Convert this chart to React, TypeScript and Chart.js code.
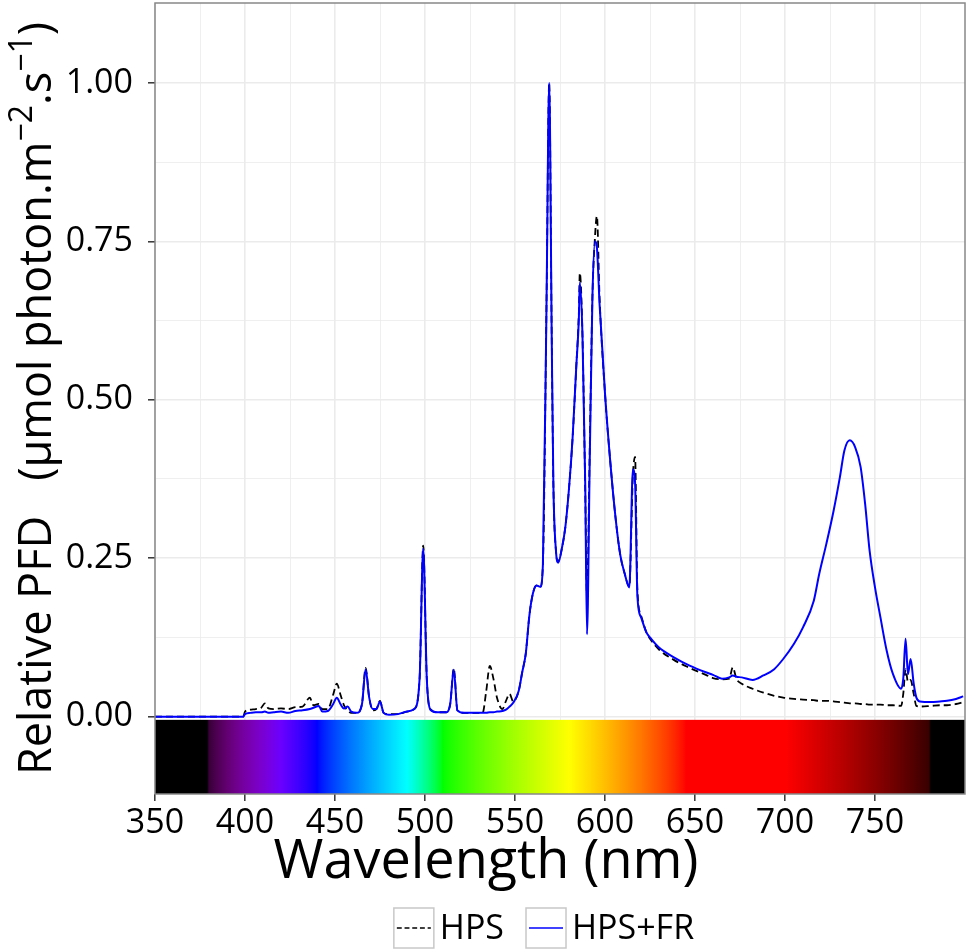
import React, { useEffect, useRef } from 'react';
import Chart from 'chart.js/auto';

// wavelength (nm) and relative photon flux for both lamps
const wavelengths = [
    350, 399, 400, 403, 406, 409, 411, 413, 416, 420, 424, 428, 432, 436, 438, 441, 443, 446, 449, 451,
    453, 455, 457, 459, 462, 465, 467, 469, 471, 473, 475, 477, 480, 485, 490, 494, 497, 499, 501, 503,
    507, 512, 514, 516, 518, 522, 528, 532, 534, 536, 538, 540, 543, 545, 547, 549, 552, 554, 556, 558,
    560, 562, 564, 565.5, 567.5, 569, 570.4, 571.3, 572.8, 574, 576, 578, 580, 582, 584, 585.5, 586, 587.5, 589, 590,
    591.5, 593, 594.5, 595.5, 597, 600, 603, 606, 608.5, 611, 613.5, 615.5, 616.7, 618, 620, 623, 625, 630, 638, 647,
    656, 660, 665, 669, 671, 673, 676, 682, 688, 694, 699, 705, 710, 716, 719, 723, 727, 730.5, 733, 736,
    739, 742, 744.5, 747, 750, 753, 756.5, 760, 764.5, 765.7, 767, 768.3, 769.8, 771.5, 773, 775, 781, 786, 790, 795,
    799,
];

const hps = [
    0, 0, 0.008, 0.011, 0.012, 0.014, 0.021, 0.013, 0.012, 0.013, 0.012, 0.015, 0.016, 0.03, 0.018, 0.02, 0.012, 0.012, 0.035, 0.052,
    0.035, 0.018, 0.01, 0.006, 0.006, 0.02, 0.077, 0.03, 0.01, 0.012, 0.025, 0.006, 0.004, 0.004, 0.008, 0.012, 0.06, 0.27, 0.06, 0.012,
    0.007, 0.007, 0.02, 0.076, 0.01, 0.006, 0.006, 0.006, 0.04, 0.08, 0.06, 0.03, 0.012, 0.025, 0.036, 0.024, 0.04, 0.07, 0.1, 0.16,
    0.195, 0.207, 0.205, 0.24, 0.65, 1.0, 0.6, 0.37, 0.26, 0.245, 0.265, 0.3, 0.36, 0.44, 0.55, 0.64, 0.7, 0.6, 0.36, 0.19,
    0.42, 0.66, 0.76, 0.79, 0.66, 0.51, 0.4, 0.31, 0.255, 0.225, 0.205, 0.38, 0.41, 0.2, 0.16, 0.133, 0.123, 0.106, 0.09, 0.077,
    0.066, 0.061, 0.059, 0.06, 0.078, 0.06, 0.052, 0.044, 0.038, 0.033, 0.03, 0.028, 0.027, 0.026, 0.025, 0.025, 0.024, 0.023, 0.022, 0.021,
    0.021, 0.02, 0.02, 0.019, 0.019, 0.019, 0.018, 0.018, 0.017, 0.036, 0.075, 0.055, 0.058, 0.036, 0.017, 0.016, 0.017, 0.018, 0.018, 0.02,
    0.023,
];

const hpsFr = [
    0, 0, 0.004, 0.006, 0.007, 0.007, 0.008, 0.006, 0.007, 0.008, 0.006, 0.009, 0.01, 0.012, 0.014, 0.017, 0.008, 0.009, 0.02, 0.03,
    0.02, 0.013, 0.016, 0.008, 0.006, 0.02, 0.075, 0.03, 0.012, 0.012, 0.024, 0.006, 0.003, 0.004, 0.008, 0.012, 0.06, 0.265, 0.06, 0.011,
    0.007, 0.007, 0.02, 0.074, 0.01, 0.006, 0.006, 0.006, 0.006, 0.007, 0.007, 0.008, 0.009, 0.011, 0.016, 0.022, 0.04, 0.07, 0.1, 0.16,
    0.195, 0.207, 0.205, 0.24, 0.65, 1.0, 0.6, 0.37, 0.26, 0.243, 0.265, 0.3, 0.36, 0.44, 0.55, 0.63, 0.685, 0.6, 0.37, 0.13,
    0.4, 0.66, 0.75, 0.74, 0.65, 0.51, 0.4, 0.31, 0.255, 0.225, 0.204, 0.39, 0.37, 0.19, 0.157, 0.133, 0.125, 0.109, 0.094, 0.0805,
    0.07, 0.066, 0.06, 0.062, 0.065, 0.063, 0.062, 0.058, 0.065, 0.075, 0.091, 0.115, 0.141, 0.183, 0.225, 0.273, 0.325, 0.378, 0.42, 0.436,
    0.425, 0.394, 0.336, 0.262, 0.204, 0.157, 0.104, 0.067, 0.044, 0.06, 0.123, 0.067, 0.091, 0.052, 0.03, 0.024, 0.023, 0.024, 0.025, 0.028,
    0.032,
];

const seriesLabels = ['HPS', 'HPS+FR'];
const xTicks = [350, 375, 400, 425, 450, 475, 500, 525, 550, 575, 600, 625, 650, 675, 700, 725, 750, 775];
const yTicks = [0, 0.125, 0.25, 0.375, 0.5, 0.625, 0.75, 0.875, 1];

const FONT = '"Open Sans", "Noto Sans", sans-serif';

const isMajorX = (v: number) => v % 50 === 0;
const isMajorY = (v: number) => Math.abs(v * 4 - Math.round(v * 4)) < 1e-9;

// approximate visible colour of a wavelength
function spectrumColor(w: number): string {
    let r = 0, g = 0, b = 0;
    if (w >= 380 && w < 440) { r = (440 - w) / 60; b = 1; }
    else if (w >= 440 && w < 490) { g = (w - 440) / 50; b = 1; }
    else if (w >= 490 && w < 510) { g = 1; b = (510 - w) / 20; }
    else if (w >= 510 && w < 580) { r = (w - 510) / 70; g = 1; }
    else if (w >= 580 && w < 645) { r = 1; g = (645 - w) / 65; }
    else if (w >= 645 && w <= 780) { r = 1; }
    let f = 0;
    if (w >= 380 && w < 420) f = 0.15 + 0.85 * (w - 380) / 40;
    else if (w >= 420 && w <= 700) f = 1;
    else if (w > 700 && w <= 780) f = 0.15 + 0.85 * (780 - w) / 80;
    const c = (v: number) => Math.round(255 * Math.pow(v * f, 0.8));
    return `rgb(${c(r)},${c(g)},${c(b)})`;
}

const colorBarPlugin = {
    id: 'colorBar',
    beforeDatasetsDraw(chart: any) {
        const { ctx, chartArea, scales } = chart;
        const x0 = scales.x.getPixelForValue(350);
        const x1 = scales.x.getPixelForValue(800);
        const top = scales.y.getPixelForValue(-0.005);
        const grad = ctx.createLinearGradient(x0, 0, x1, 0);
        for (let w = 350; w <= 800; w += 1) {
            grad.addColorStop((w - 350) / 450, spectrumColor(w));
        }
        ctx.save();
        ctx.fillStyle = grad;
        ctx.fillRect(x0, top, Math.min(x1, chartArea.right) - x0, chartArea.bottom - top);
        ctx.restore();
    },
};

const framePlugin = {
    id: 'frame',
    afterDraw(chart: any) {
        const { ctx, chartArea } = chart;
        ctx.save();
        ctx.strokeStyle = '#888888';
        ctx.lineWidth = 1.5;
        ctx.strokeRect(chartArea.left, chartArea.top, chartArea.right - chartArea.left, chartArea.bottom - chartArea.top);
        ctx.restore();
    },
};

const yTitlePlugin = {
    id: 'yTitle',
    afterDraw(chart: any) {
        const { ctx, chartArea } = chart;
        const size = 45;
        const supSize = 32;
        const parts = [
            { text: 'Relative PFD   (µmol photon.m', sup: false },
            { text: '−2', sup: true },
            { text: '.s', sup: false },
            { text: '−1', sup: true },
            { text: ')', sup: false },
        ];
        ctx.save();
        const widths = parts.map(p => {
            ctx.font = `${p.sup ? supSize : size}px ${FONT}`;
            return ctx.measureText(p.text).width;
        });
        const total = widths.reduce((a, b) => a + b, 0);
        ctx.translate(51, (chartArea.top + chartArea.bottom) / 2);
        ctx.rotate(-Math.PI / 2);
        ctx.fillStyle = '#000';
        ctx.textAlign = 'left';
        ctx.textBaseline = 'alphabetic';
        let x = -total / 2;
        parts.forEach((p, i) => {
            ctx.font = `${p.sup ? supSize : size}px ${FONT}`;
            ctx.fillText(p.text, x, p.sup ? -19 : 0);
            x += widths[i];
        });
        ctx.restore();
    },
};

const xTitlePlugin = {
    id: 'xTitle',
    afterDraw(chart: any) {
        const { ctx } = chart;
        ctx.save();
        ctx.font = `54px ${FONT}`;
        ctx.fillStyle = '#000';
        ctx.textAlign = 'center';
        ctx.textBaseline = 'alphabetic';
        ctx.fillText('Wavelength (nm)', 486, 878);
        ctx.restore();
    },
};

const legendPlugin = {
    id: 'bottomLegend',
    afterDraw(chart: any) {
        const { ctx, chartArea } = chart;
        const box = 40;
        const textGap = 6;
        const itemGap = 22;
        const cy = 928;
        ctx.save();
        ctx.font = `34px ${FONT}`;
        const items = chart.data.datasets.map((ds: any) => ({
            label: ds.label,
            color: ds.borderColor,
            dash: ds.borderDash || [],
            width: ds.borderWidth,
            textWidth: ctx.measureText(ds.label).width,
        }));
        const total = items.reduce((s: number, it: any) => s + box + textGap + it.textWidth, 0) + itemGap * (items.length - 1);
        let x = (chartArea.left + chartArea.right) / 2 - 16 - total / 2;
        items.forEach((it: any) => {
            ctx.setLineDash([]);
            ctx.strokeStyle = '#c8c8c8';
            ctx.lineWidth = 1.5;
            ctx.strokeRect(x, cy - box / 2, box, box);
            ctx.beginPath();
            ctx.setLineDash(it.dash.map((d: number) => d * 0.7));
            ctx.strokeStyle = it.color;
            ctx.lineWidth = it.width * 0.7;
            ctx.moveTo(x + 3, cy);
            ctx.lineTo(x + box - 3, cy);
            ctx.stroke();
            ctx.setLineDash([]);
            ctx.fillStyle = '#000';
            ctx.textAlign = 'left';
            ctx.textBaseline = 'middle';
            ctx.fillText(it.label, x + box + textGap, cy + 1);
            x += box + textGap + it.textWidth + itemGap;
        });
        ctx.restore();
    },
};

const SpectrumChart: React.FC = () => {
    const canvasRef = useRef<HTMLCanvasElement | null>(null);

    useEffect(() => {
        document.body.style.margin = '0';
        if (!canvasRef.current) return;
        const chart = new Chart(canvasRef.current, {
            type: 'line',
            data: {
                datasets: [
                    {
                        label: seriesLabels[0],
                        data: wavelengths.map((w, i) => ({ x: w, y: hps[i] })),
                        borderColor: '#000000',
                        borderWidth: 1.8,
                        borderDash: [7, 4],
                        pointRadius: 0,
                        fill: false,
                        cubicInterpolationMode: 'monotone',
                        order: 1,
                    },
                    {
                        label: seriesLabels[1],
                        data: wavelengths.map((w, i) => ({ x: w, y: hpsFr[i] })),
                        borderColor: '#0000ff',
                        borderWidth: 2,
                        pointRadius: 0,
                        fill: false,
                        cubicInterpolationMode: 'monotone',
                        order: 0,
                    },
                ],
            },
            options: {
                responsive: true,
                maintainAspectRatio: false,
                animation: false,
                layout: { padding: { top: 3, right: 3, left: 0, bottom: 0 } },
                plugins: {
                    legend: { display: false },
                    tooltip: { enabled: false },
                },
                scales: {
                    x: {
                        type: 'linear',
                        min: 350,
                        max: 800,
                        afterBuildTicks: (s: any) => { s.ticks = xTicks.map(v => ({ value: v })); },
                        afterFit: (s: any) => {
                            s.height = 158;
                            s.paddingLeft = 0;
                            s.paddingRight = 0;
                        },
                        border: { display: false },
                        grid: {
                            color: '#ebebeb',
                            lineWidth: (c: any) => (isMajorX(c.tick.value) ? 1.6 : 0.8),
                            tickLength: 7,
                            tickColor: (c: any) => (isMajorX(c.tick.value) ? '#333333' : 'rgba(0,0,0,0)'),
                            tickWidth: 1.5,
                        },
                        ticks: {
                            autoSkip: false,
                            maxRotation: 0,
                            padding: 2,
                            color: '#000',
                            font: { family: FONT, size: 34 },
                            callback: (v: any) => (isMajorX(Number(v)) ? String(v) : ''),
                        },
                    },
                    y: {
                        type: 'linear',
                        min: -0.122,
                        max: 1.126,
                        afterBuildTicks: (s: any) => { s.ticks = yTicks.map(v => ({ value: v })); },
                        afterFit: (s: any) => {
                            s.width = 155;
                            s.paddingTop = 0;
                            s.paddingBottom = 0;
                        },
                        border: { display: false },
                        grid: {
                            color: '#ebebeb',
                            lineWidth: (c: any) => (isMajorY(c.tick.value) ? 1.6 : 0.8),
                            tickLength: 7,
                            tickColor: (c: any) => (isMajorY(c.tick.value) ? '#333333' : 'rgba(0,0,0,0)'),
                            tickWidth: 1.5,
                        },
                        ticks: {
                            autoSkip: false,
                            padding: 15,
                            color: '#000',
                            font: { family: FONT, size: 34 },
                            callback: (v: any) => (isMajorY(Number(v)) ? Number(v).toFixed(2) : ''),
                        },
                    },
                },
            },
            plugins: [colorBarPlugin, framePlugin, yTitlePlugin, xTitlePlugin, legendPlugin],
        });

        return () => {
            chart.destroy();
        };
    }, []);

    return (
        <div style={{ width: 968, height: 952, position: 'relative' }}>
            <canvas ref={canvasRef} />
        </div>
    );
};

export default function App() {
    return <SpectrumChart />;
}
